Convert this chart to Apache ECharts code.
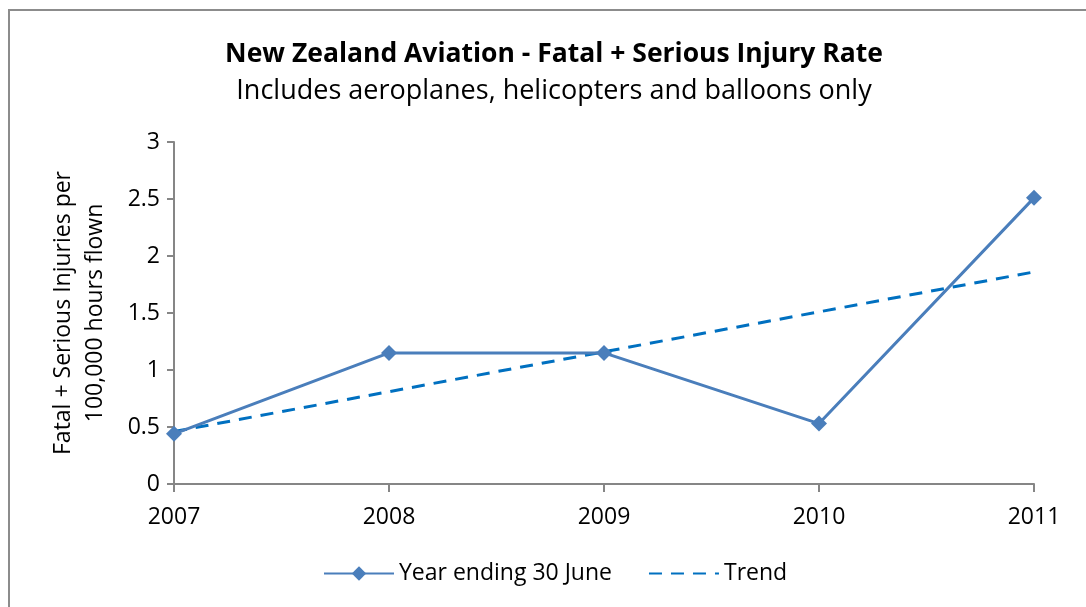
<!DOCTYPE html>
<html>
<head>
<meta charset="utf-8">
<title>New Zealand Aviation - Fatal + Serious Injury Rate</title>
<script src="https://cdn.jsdelivr.net/npm/echarts@6/dist/echarts.min.js"></script>
<style>
  html, body { margin: 0; padding: 0; background: #fff; overflow: hidden; }
  #frame { position: absolute; left: 8px; top: 9px; width: 1100px; height: 620px; border: 2px solid #8c8c8c; box-sizing: border-box; }
  #chart { position: absolute; left: 0; top: 0; width: 1086px; height: 607px; }
</style>
</head>
<body>
<div id="frame"></div>
<div id="chart"></div>
<script>
// data
const years = ['2007', '2008', '2009', '2010', '2011'];
const injuryRate = [0.44, 1.15, 1.15, 0.53, 2.51];
const trendRate = [0.46, 0.81, 1.16, 1.51, 1.86];
const yTicks = [0, 0.5, 1, 1.5, 2, 2.5, 3];

const font = 'Open Sans';
const chart = echarts.init(document.getElementById('chart'));

const option = {
  animation: false,
  textStyle: { fontFamily: font },
  title: {
    text: 'New Zealand Aviation - Fatal + Serious Injury Rate',
    subtext: 'Includes aeroplanes, helicopters and balloons only',
    left: 549,
    textAlign: 'center',
    top: 33,
    itemGap: 5,
    textStyle: { fontFamily: font, fontSize: 26.5, fontWeight: 'bold', color: '#000', lineHeight: 32 },
    subtextStyle: { fontFamily: font, fontSize: 27, color: '#000', lineHeight: 32 }
  },
  grid: { left: 174, right: 52, top: 142, bottom: 123 },
  legend: {
    bottom: 17,
    left: 318,
    itemWidth: 70,
    itemHeight: 18,
    itemGap: 36,
    textStyle: { fontFamily: font, fontSize: 23, color: '#000' },
    data: [
      { name: 'Year ending 30 June' },
      { name: 'Trend', itemStyle: { opacity: 0 } }
    ]
  },
  xAxis: {
    type: 'category',
    data: years,
    boundaryGap: false,
    axisLine: { lineStyle: { color: '#868686', width: 2 } },
    axisTick: { show: true, length: 8, lineStyle: { color: '#868686', width: 2 } },
    axisLabel: { fontFamily: font, fontSize: 23, color: '#000', margin: 22 }
  },
  yAxis: {
    type: 'value',
    min: yTicks[0],
    max: yTicks[yTicks.length - 1],
    interval: 0.5,
    name: 'Fatal + Serious Injuries per\n100,000 hours flown',
    nameLocation: 'middle',
    nameGap: 63,
    nameTextStyle: { fontFamily: font, fontSize: 23, color: '#000', lineHeight: 32 },
    splitLine: { show: false },
    axisLine: { show: true, lineStyle: { color: '#868686', width: 2 } },
    axisTick: { show: true, length: 7, lineStyle: { color: '#868686', width: 2 } },
    axisLabel: { fontFamily: font, fontSize: 23, color: '#000', margin: 14 }
  },
  series: [
    {
      name: 'Year ending 30 June',
      type: 'line',
      data: injuryRate,
      symbol: 'diamond',
      symbolSize: 16,
      itemStyle: { color: '#4a7ebb' },
      lineStyle: { color: '#4a7ebb', width: 3 },
      z: 3
    },
    {
      name: 'Trend',
      type: 'line',
      data: trendRate,
      symbol: 'none',
      itemStyle: { color: '#0070c0' },
      lineStyle: { color: '#0070c0', width: 3, type: [13, 9] },
      z: 2
    }
  ]
};

chart.setOption(option);
</script>
</body>
</html>
